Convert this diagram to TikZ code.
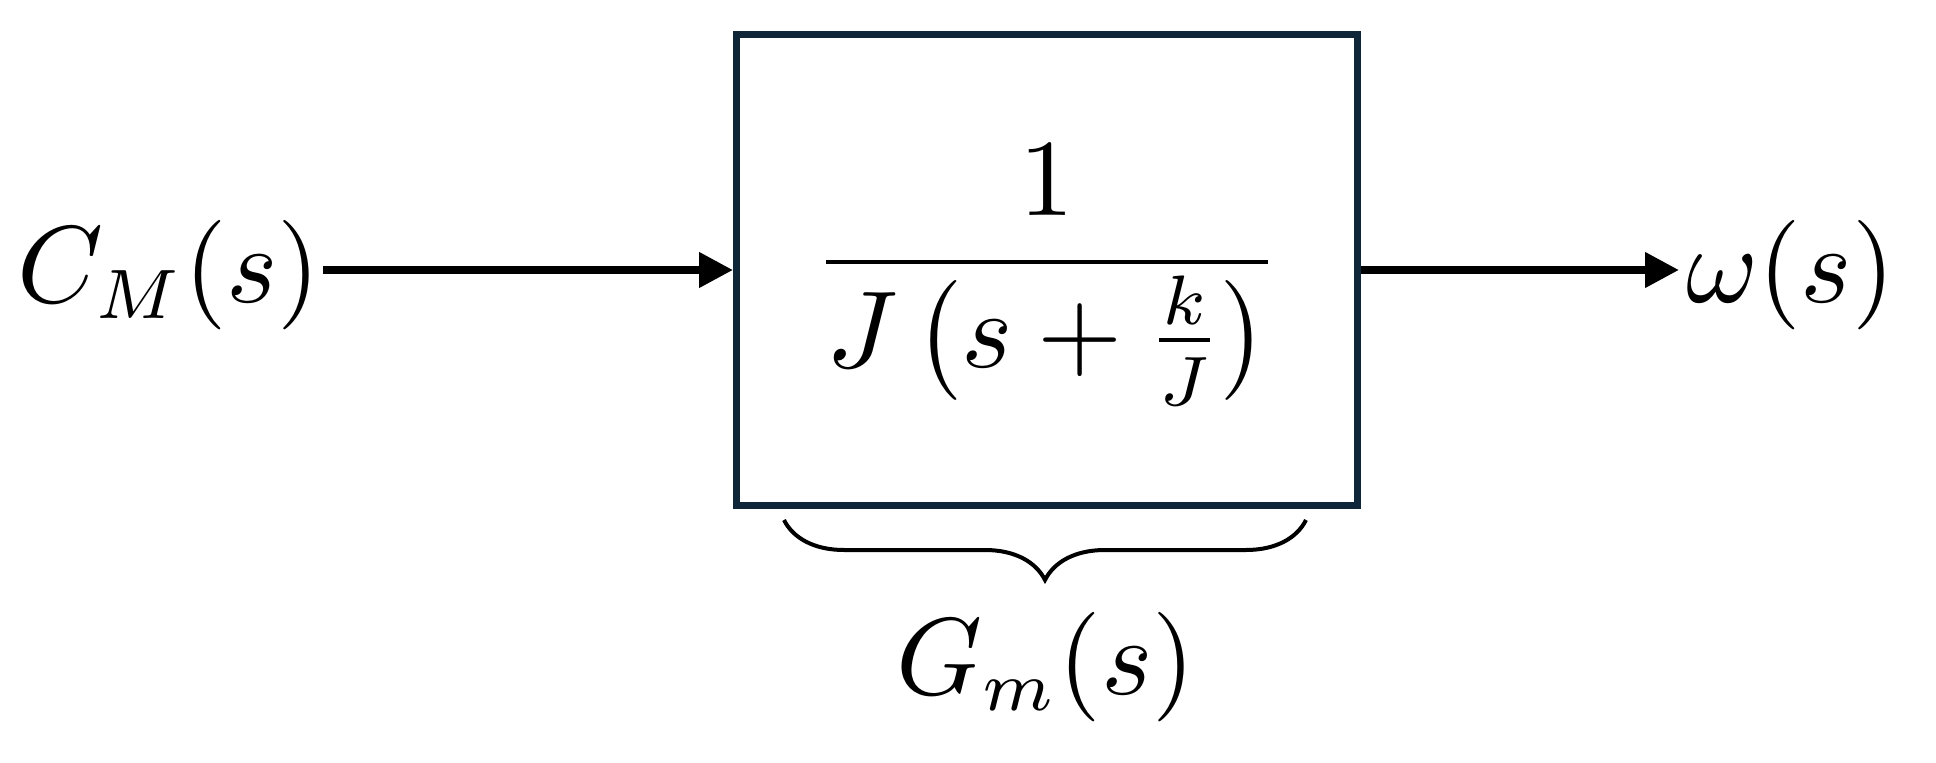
\documentclass[tikz,border=0pt]{standalone}
\usetikzlibrary{arrows.meta,decorations.pathreplacing}
\definecolor{boxc}{HTML}{0F2538}
\begin{document}
\begin{tikzpicture}[x=0.1pt,y=-0.1pt,
  sig/.style={line width=0.75pt,-{Triangle[length=3.4pt,width=3.4pt]}},
  txt/.style={font=\fontsize{10.5}{12}\selectfont,inner sep=0pt}]
\useasboundingbox (0,0) rectangle (1936,763);
\node[draw=boxc,line width=0.7pt,minimum width=621*0.1pt,minimum height=471*0.1pt,inner sep=0pt] (G) at (1047,270) {};
\node[txt,font=\fontsize{10.5}{13}\selectfont] (F) at (1047,275) {$\displaystyle\frac{1}{J\left(s+\frac{k}{J}\right)}$};
\node[txt,anchor=west] (in) at (15,275) {$C_M(s)$};
\node[txt,anchor=west] (out) at (1684,275) {$\omega(s)$};
\coordinate (a) at (323,270);
\coordinate (b) at (1679,270);
\draw[sig] (a) -- (G.west);
\draw[sig] (G.east) -- (b);
\coordinate (bl) at (784,520);
\coordinate (br) at (1306,520);
\draw[line width=0.4pt,decorate,decoration={brace,mirror,amplitude=6pt}] (bl) -- (br);
\node[txt] (gm) at (1046,667) {$G_m(s)$};
\end{tikzpicture}
\end{document}
